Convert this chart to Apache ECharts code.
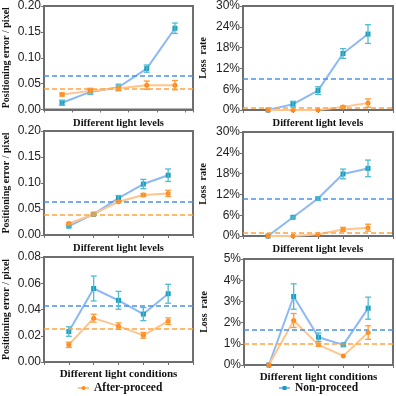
<!DOCTYPE html>
<html lang="en">
<head>
    <meta charset="UTF-8">
    <title>Positioning error and loss rate</title>
    <script src="https://cdn.jsdelivr.net/npm/echarts@6/dist/echarts.min.js"></script>
</head>
<body style="margin:0">

<div id="main" style="width:396px;height:396px;"></div>

<script type="text/javascript">
    // x positions of the five light levels / conditions
    var levels = [1, 2, 3, 4, 5];

    // panel 1: positioning error vs light levels (set A)
    var errA_non = [0.013, 0.034, 0.043, 0.079, 0.157];
    var errA_nonSd = [0.005, 0.005, 0.006, 0.007, 0.010];
    var errA_after = [0.029, 0.036, 0.041, 0.047, 0.047];
    var errA_afterSd = [0.003, 0.005, 0.005, 0.008, 0.009];
    var errA_mean = [0.065, 0.040];

    // panel 2: loss rate vs light levels (set A), percent
    var lossA_non = [0, 1.7, 5.6, 16.3, 21.9];
    var lossA_nonSd = [0, 0.8, 1.1, 1.4, 2.7];
    var lossA_after = [0, 0, 0, 0.9, 2.0];
    var lossA_afterSd = [0, 0, 0, 0.3, 1.2];
    var lossA_mean = [9.0, 0.6];

    // panel 3: positioning error vs light levels (set B)
    var errB_non = [0.017, 0.040, 0.071, 0.098, 0.115];
    var errB_nonSd = [0.002, 0.002, 0.005, 0.009, 0.012];
    var errB_after = [0.022, 0.040, 0.064, 0.077, 0.080];
    var errB_afterSd = [0.002, 0.002, 0.002, 0.003, 0.006];
    var errB_mean = [0.063, 0.038];

    // panel 4: loss rate vs light levels (set B), percent
    var lossB_non = [0, 5.4, 10.8, 17.9, 19.5];
    var lossB_nonSd = [0, 0.3, 0.5, 1.4, 2.4];
    var lossB_after = [0, 0, 0.5, 1.9, 2.4];
    var lossB_afterSd = [0, 0, 0, 0.6, 1.0];
    var lossB_mean = [10.8, 0.9];

    // panel 5: positioning error vs light conditions
    var errC_non = [0.0232, 0.056, 0.047, 0.0365, 0.052];
    var errC_nonSd = [0.0036, 0.0095, 0.0068, 0.005, 0.0072];
    var errC_after = [0.0131, 0.0334, 0.0273, 0.0203, 0.0311];
    var errC_afterSd = [0.002, 0.003, 0.0025, 0.0022, 0.0025];
    var errC_mean = [0.0427, 0.0252];

    // panel 6: loss rate vs light conditions, percent
    var lossC_non = [0, 3.23, 1.31, 0.95, 2.68];
    var lossC_nonSd = [0, 0.6, 0.2, 0.07, 0.52];
    var lossC_after = [0, 2.1, 0.95, 0.43, 1.53];
    var lossC_afterSd = [0, 0.33, 0.07, 0, 0.32];
    var lossC_mean = [1.66, 0.99];

    var BLUE_LINE = '#8cb8f6', BLUE_MARK = '#1c9cbf', BLUE_ERR = '#4fbcd2', BLUE_DASH = '#4a93ea';
    var ORANGE_LINE = '#ffc58c', ORANGE_MARK = '#ff8a1e', ORANGE_ERR = '#ff9a36', ORANGE_DASH = '#ffa444';
    var FRAME = '#6e6e6e';

    var panels = [
        {grid: {left: 44, top: 6, width: 149, height: 103.5}, xmin: 0.36, xmax: 5.64,
            ymax: 0.2, step: 0.05, pct: false, yname: 'Positioning error / pixel', xname: 'Different light levels',
            non: errA_non, nonSd: errA_nonSd, after: errA_after, afterSd: errA_afterSd, mean: errA_mean},
        {grid: {left: 243, top: 6, width: 150, height: 104}, xmin: 0, xmax: 6,
            ymax: 30, step: 6, pct: true, yname: 'Loss  rate', xname: 'Different light levels',
            non: lossA_non, nonSd: lossA_nonSd, after: lossA_after, afterSd: lossA_afterSd, mean: lossA_mean},
        {grid: {left: 44, top: 131, width: 149, height: 104}, xmin: 0, xmax: 6,
            ymax: 0.2, step: 0.05, pct: false, yname: 'Positioning error / pixel', xname: 'Different light levels',
            non: errB_non, nonSd: errB_nonSd, after: errB_after, afterSd: errB_afterSd, mean: errB_mean},
        {grid: {left: 243, top: 132, width: 150, height: 104}, xmin: 0, xmax: 6,
            ymax: 30, step: 6, pct: true, yname: 'Loss  rate', xname: 'Different light levels',
            non: lossB_non, nonSd: lossB_nonSd, after: lossB_after, afterSd: lossB_afterSd, mean: lossB_mean},
        {grid: {left: 44, top: 257, width: 149, height: 105}, xmin: 0, xmax: 6,
            ymax: 0.08, step: 0.02, pct: false, yname: 'Positioning error / pixel', xname: 'Different light conditions',
            non: errC_non, nonSd: errC_nonSd, after: errC_after, afterSd: errC_afterSd, mean: errC_mean},
        {grid: {left: 244, top: 259, width: 149, height: 106}, xmin: 0, xmax: 6,
            ymax: 5, step: 1, pct: true, yname: 'Loss  rate', xname: 'Different light conditions',
            non: lossC_non, nonSd: lossC_nonSd, after: lossC_after, afterSd: lossC_afterSd, mean: lossC_mean}
    ];

    function pairs(vals) {
        return levels.map(function (x, i) { return [x, vals[i]]; });
    }

    function errData(vals, sd) {
        return levels.map(function (x, i) { return [x, vals[i], sd[i]]; });
    }

    function errorBar(color) {
        return function (params, api) {
            var x = api.value(0), y = api.value(1), e = api.value(2);
            if (!e) return;
            var lo = api.coord([x, y - e]), hi = api.coord([x, y + e]);
            var st = {stroke: color, lineWidth: 1.3};
            return {
                type: 'group',
                children: [
                    {type: 'line', shape: {x1: lo[0], y1: lo[1], x2: hi[0], y2: hi[1]}, style: st},
                    {type: 'line', shape: {x1: lo[0] - 3, y1: lo[1], x2: lo[0] + 3, y2: lo[1]}, style: st},
                    {type: 'line', shape: {x1: hi[0] - 3, y1: hi[1], x2: hi[0] + 3, y2: hi[1]}, style: st}
                ]
            };
        };
    }

    function dashLine(value, color) {
        return {
            silent: true,
            symbol: 'none',
            precision: 5,
            label: {show: false},
            lineStyle: {color: color, type: [5, 3], width: 1.5},
            data: [{yAxis: value}]
        };
    }

    var grids = [], xAxes = [], yAxes = [], series = [];
    panels.forEach(function (p, k) {
        var g = p.grid;
        grids.push({left: g.left, top: g.top, width: g.width, height: g.height,
            show: true, borderColor: FRAME, borderWidth: 2});
        xAxes.push({
            gridIndex: k, type: 'value', min: p.xmin, max: p.xmax, interval: 1,
            name: p.xname, nameLocation: 'middle', nameGap: p.xname.length > 24 ? 7 : 8,
            nameTextStyle: {fontFamily: 'Liberation Serif', fontWeight: 'bold',
                fontSize: p.xname.length > 24 ? 11 : 10.5, color: '#111'},
            axisLine: {lineStyle: {color: FRAME, width: 2}},
            axisTick: {show: true, length: 3, lineStyle: {color: FRAME, width: 1}},
            axisLabel: {show: false},
            splitLine: {show: false}
        });
        yAxes.push({
            gridIndex: k, type: 'value', min: 0, max: p.ymax, interval: p.step,
            name: p.yname, nameLocation: 'middle', nameGap: p.pct ? 35 : 33,
            nameTextStyle: {fontFamily: 'Liberation Serif', fontWeight: 'bold', fontSize: 10, color: '#111'},
            axisLine: {show: true, lineStyle: {color: FRAME, width: 2}},
            axisTick: {show: true, length: 3, lineStyle: {color: FRAME, width: 1}},
            axisLabel: {
                margin: 3, fontFamily: 'Liberation Sans', fontSize: 12, color: '#222',
                formatter: function (v) {
                    return p.pct ? Math.round(v) + '%' : v.toFixed(2);
                }
            },
            splitLine: {show: false}
        });

        series.push({
            name: 'Non-proceed', type: 'line', xAxisIndex: k, yAxisIndex: k, z: 3,
            data: pairs(p.non), symbol: 'rect', symbolSize: 5,
            itemStyle: {color: BLUE_MARK},
            lineStyle: {color: BLUE_LINE, width: 2},
            markLine: dashLine(p.mean[0], BLUE_DASH)
        });
        series.push({
            name: 'After-proceed', type: 'line', xAxisIndex: k, yAxisIndex: k, z: 4,
            data: pairs(p.after), symbol: 'circle', symbolSize: 5,
            itemStyle: {color: ORANGE_MARK},
            lineStyle: {color: ORANGE_LINE, width: 2},
            markLine: dashLine(p.mean[1], ORANGE_DASH)
        });
        series.push({
            type: 'custom', xAxisIndex: k, yAxisIndex: k, z: 5, silent: true,
            renderItem: errorBar(BLUE_ERR), data: errData(p.non, p.nonSd)
        });
        series.push({
            type: 'custom', xAxisIndex: k, yAxisIndex: k, z: 5, silent: true,
            renderItem: errorBar(ORANGE_ERR), data: errData(p.after, p.afterSd)
        });
    });

    var legendText = {fontFamily: 'Liberation Serif', fontWeight: 'bold', fontSize: 11.5, color: '#111'};

    var myChart = echarts.init(document.getElementById('main'));
    myChart.setOption({
        animation: false,
        legend: [
            {data: ['After-proceed'], left: 72, top: 377, itemWidth: 11, itemHeight: 5, itemGap: 5, textStyle: legendText},
            {data: ['Non-proceed'], left: 273, top: 377, itemWidth: 11, itemHeight: 5, itemGap: 5, textStyle: legendText}
        ],
        grid: grids,
        xAxis: xAxes,
        yAxis: yAxes,
        series: series
    });
</script>
</body>
</html>
